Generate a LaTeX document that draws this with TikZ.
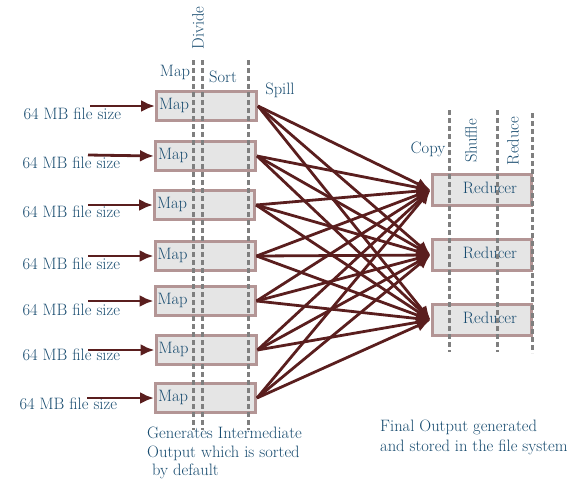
\documentclass[tikz,border=0pt]{standalone}
\usepackage{xcolor}
\usepackage{tikz}
\usetikzlibrary{arrows.meta}
\definecolor{txtblue}{HTML}{164A6E}
\definecolor{arrowred}{HTML}{5A1E1E}
\definecolor{boxborder}{HTML}{B39595}
\definecolor{boxfill}{HTML}{E5E5E5}
\definecolor{dashgray}{HTML}{7F7F7F}
\tikzset{
  mapbox/.style={draw=boxborder,fill=boxfill,line width=3pt,minimum height=29.5pt,
    text width=95pt,inner xsep=2.5pt,align=left,text=txtblue,text depth=5pt},
  redbox/.style={draw=boxborder,fill=boxfill,line width=3pt,minimum height=31pt,
    text width=71pt,inner xsep=14pt,align=right,text=txtblue,text depth=5pt},
  sizelabel/.style={anchor=west,text=txtblue},
  steplabel/.style={text=txtblue},
  phase/.style={draw=dashgray,line width=3pt,dash pattern=on 5pt off 3pt},
  flow/.style={draw=arrowred,line width=2.8pt,-{Latex[length=14pt,width=12pt]}}
}

\begin{document}
\begin{tikzpicture}[x=1pt,y=-1pt,font=\fontsize{16.5}{18.5}\selectfont]
		\useasboundingbox (0,0) rectangle (581,491);
		% Map boxes
		\node[mapbox] (m1) at (206.5,106) {Map};
		\node[mapbox] (m2) at (205.5,156) {Map};
		\node[mapbox] (m3) at (204.5,205) {Map};
		\node[mapbox] (m4) at (205,256) {Map};
		\node[mapbox] (m5) at (205,301) {Map};
		\node[mapbox] (m6) at (206,350) {Map};
		\node[mapbox] (m7) at (205.5,398) {Map};
		% Reducer boxes
		\node[redbox] (r1) at (481.5,190) {Reducer};
		\node[redbox] (r2) at (481.5,255) {Reducer};
		\node[redbox] (r3) at (481.5,320) {Reducer};
		% phase lines
		\draw[phase] (193,60) -- (193,430);
		\draw[phase] (202,60) -- (202,430);
		\draw[phase] (248,60) -- (248,430);
		\draw[phase] (449,110) -- (449,352);
		\draw[phase] (497,110) -- (497,352);
		\draw[phase] (532,113) -- (532,353);
		% phase names
		\node[steplabel,rotate=90] (divide) at (198,28) {Divide};
		\node[steplabel] (maplbl) at (175,72) {Map};
		\node[steplabel] (sort) at (223,77) {Sort};
		\node[steplabel] (spill) at (280,90) {Spill};
		\node[steplabel] (copy) at (428,149) {Copy};
		\node[steplabel,rotate=90] (shuffle) at (471,141) {Shuffle};
		\node[steplabel,rotate=90] (reduce) at (513,141) {Reduce};
		% input files
		\node[sizelabel] (f1) at (20,114) {64 MB file size};
		\node[sizelabel] (f2) at (19,163) {64 MB file size};
		\node[sizelabel] (f3) at (19,212) {64 MB file size};
		\node[sizelabel] (f4) at (19,264) {64 MB file size};
		\node[sizelabel] (f5) at (19,310) {64 MB file size};
		\node[sizelabel] (f6) at (19,355) {64 MB file size};
		\node[sizelabel] (f7) at (16,404) {64 MB file size};
		\coordinate (i1) at (90,106);
		\coordinate (i2) at (88,155);
		\coordinate (i3) at (88,205);
		\coordinate (i4) at (88,256);
		\coordinate (i5) at (88,301);
		\coordinate (i6) at (88,350);
		\coordinate (i7) at (87,398);
		\foreach \k in {1,...,7} \draw[flow] (i\k) -- (m\k.west);
		% map to reducer
		\foreach \k in {1,...,7}
		  \foreach \r in {1,2,3}
		    \draw[flow] (m\k.east) -- (r\r.west);
		% notes
		\node[text=txtblue,anchor=north west,align=left,inner sep=0pt] (note1) at (147,427)
		  {Generates Intermediate\\Output which is sorted\\\ by default};
		\node[text=txtblue,anchor=north west,align=left,inner sep=0pt,font=\fontsize{16.5}{20}\selectfont] (note2) at (380,420)
		  {Final Output generated\\and stored in the file system};
\end{tikzpicture}
\end{document}
